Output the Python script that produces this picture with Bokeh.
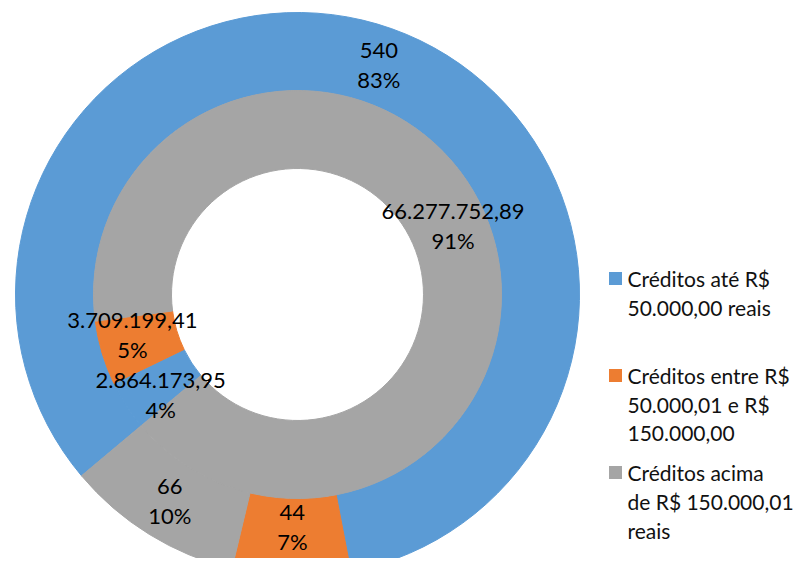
import numpy as np
from bokeh.plotting import figure
from bokeh.models import Range1d, ColumnDataSource
from bokeh.core.properties import value
from bokeh.embed import file_html
from bokeh.resources import INLINE

# ---- data ----
categories = [
    ["Créditos até R$", "50.000,00 reais"],
    ["Créditos entre R$", "50.000,01 e R$", "150.000,00"],
    ["Créditos acima", "de R$ 150.000,01", "reais"],
]
outer_counts = [540, 44, 66]
outer_value_labels = ["540", "44", "66"]
inner_amounts = [2864173.95, 3709199.41, 66277752.89]
inner_value_labels = ["2.864.173,95", "3.709.199,41", "66.277.752,89"]
colors = ["#5B9BD5", "#ED7D31", "#A5A5A5"]

# ---- style / layout (pixel units) ----
FIRST_SLICE_ANGLE = 230.0  # degrees, clockwise from 12 o'clock
CX, CY = 297, 280
R_HOLE, R_MID, R_OUT = 126, 204, 282
FONT = "Lato"
FSIZE = "22px"
LEG_FSIZE = "21px"
LINE = 29
LEG_X, LEG_Y0, LEG_STEP, LEG_SQ = 615, 296, 97, 13
OUTER_LABEL_R_SHIFT = [0.0, -10.0, 0.0]
INNER_LABEL_R_SHIFT = [5.0, 5.0, 5.0]
INNER_LABEL_NUDGE_DEG = [-3.5, 3.0, 0.0]   # label collision avoidance
OUTER_LABEL_NUDGE_DEG = [0.0, 0.0, 0.0]

W, H = 795, 558
p = figure(width=W, height=H, output_backend="svg", toolbar_location=None,
           x_range=Range1d(0, W), y_range=Range1d(574 - H, 574),
           min_border=0, outline_line_color=None)
p.axis.visible = False
p.grid.visible = False


def ring_source(vals, value_labels, r_in, r_out, r_shift, nudge):
    vals = np.asarray(vals, dtype=float)
    frac = vals / vals.sum()
    start_cw = FIRST_SLICE_ANGLE + 360.0 * np.concatenate([[0.0], np.cumsum(frac)[:-1]])
    end_cw = start_cw + 360.0 * frac
    mid_cw = np.radians((start_cw + end_cw) / 2.0 + np.asarray(nudge))
    rm = (r_in + r_out) / 2.0 + np.asarray(r_shift)
    lx = CX + rm * np.sin(mid_cw)
    ly = CY + rm * np.cos(mid_cw)
    pcts = [f"{round(100 * f):.0f}%" for f in frac]
    return ColumnDataSource(dict(
        x=[CX] * len(vals), y=[CY] * len(vals),
        start=np.radians(90.0 - start_cw), end=np.radians(90.0 - end_cw),
        color=colors, lx=lx, ly_top=ly + LINE / 2, ly_bot=ly - LINE / 2,
        val=list(value_labels), pct=pcts,
    ))


outer = ring_source(outer_counts, outer_value_labels, R_MID, R_OUT,
                    OUTER_LABEL_R_SHIFT, OUTER_LABEL_NUDGE_DEG)
inner = ring_source(inner_amounts, inner_value_labels, R_HOLE, R_MID,
                    INNER_LABEL_R_SHIFT, INNER_LABEL_NUDGE_DEG)

for src, ri, ro in ((outer, R_MID, R_OUT), (inner, R_HOLE, R_MID)):
    p.annular_wedge(x="x", y="y", inner_radius=ri, outer_radius=ro,
                    start_angle="start", end_angle="end", direction="clock",
                    fill_color="color", line_color="color", line_width=1,
                    source=src)

for src in (outer, inner):
    for col, ycol in (("val", "ly_top"), ("pct", "ly_bot")):
        p.text(x="lx", y=ycol, text=col, source=src, text_font=value(FONT),
               text_font_size=FSIZE, text_color="black", text_align="center",
               text_baseline="middle")

# ---- legend (drawn manually to keep first-line alignment) ----
sq_y = [LEG_Y0 - i * LEG_STEP for i in range(len(categories))]
p.rect(x=[LEG_X] * len(categories), y=sq_y, width=LEG_SQ, height=LEG_SQ,
       fill_color=colors, line_color=None)
tx, ty, tt = [], [], []
for i, lines in enumerate(categories):
    for j, line in enumerate(lines):
        tx.append(LEG_X + 12)
        ty.append(sq_y[i] - j * LINE)
        tt.append(line)
p.text(x=tx, y=ty, text=tt, text_font=value(FONT), text_font_size=LEG_FSIZE,
       text_color="#111111", text_align="left", text_baseline="middle")

open("out.html", "w").write(file_html(p, INLINE))
